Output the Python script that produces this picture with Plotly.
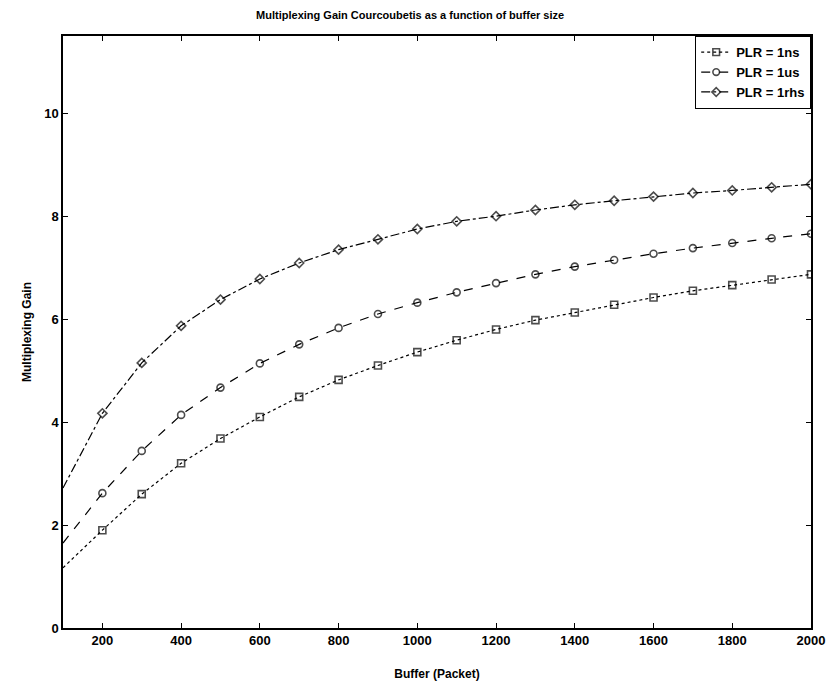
import plotly.graph_objects as go

buffer_sizes = [100, 200, 300, 400, 500, 600, 700, 800, 900, 1000, 1100, 1200, 1300,
                1400, 1500, 1600, 1700, 1800, 1900, 2000]
gain_1ns = [1.17, 1.90, 2.60, 3.20, 3.68, 4.10, 4.49, 4.82, 5.10, 5.36, 5.59, 5.80, 5.98,
            6.13, 6.28, 6.42, 6.55, 6.66, 6.77, 6.87]
gain_1us = [1.65, 2.62, 3.44, 4.14, 4.67, 5.14, 5.51, 5.83, 6.10, 6.32, 6.52, 6.70, 6.87,
            7.02, 7.15, 7.27, 7.38, 7.48, 7.57, 7.66]
gain_1ms = [2.72, 4.17, 5.15, 5.87, 6.38, 6.78, 7.09, 7.35, 7.55, 7.75, 7.90, 8.00, 8.12,
            8.22, 8.30, 8.38, 8.45, 8.50, 8.56, 8.62]
series_names = ["PLR = 1ns", "PLR = 1us", "PLR = 1rhs"]

x_ticks = [200, 400, 600, 800, 1000, 1200, 1400, 1600, 1800, 2000]
y_ticks = [0, 2, 4, 6, 8, 10]

marker_sizes = [0] + [7] * (len(buffer_sizes) - 1)

styles = [
    ("square-open", "dot"),
    ("circle-open", "dash"),
    ("diamond-open", "dashdot"),
]

FAMILY = "Liberation Sans, Arial, sans-serif"

fig = go.Figure()
for name, ys, (sym, dash) in zip(series_names, [gain_1ns, gain_1us, gain_1ms], styles):
    fig.add_trace(go.Scatter(
        x=buffer_sizes, y=ys, name=name, mode="lines+markers",
        line=dict(color="black", width=1.2, dash=dash),
        marker=dict(symbol=sym, size=marker_sizes, color="black",
                    line=dict(color="black", width=1.6)),
    ))

fig.update_layout(
    width=837, height=694,
    margin=dict(l=63, r=21, t=36, b=66),
    paper_bgcolor="white", plot_bgcolor="white",
    title=dict(text="<b>Multiplexing Gain Courcoubetis as a function of buffer size</b>",
               x=0.49, xanchor="center", y=0.978, yanchor="middle",
               font=dict(family=FAMILY, size=11, color="black")),
    font=dict(family=FAMILY, size=13, color="black"),
    showlegend=True,
    legend=dict(x=1, xanchor="right", y=1, yanchor="top",
                bgcolor="white", bordercolor="black", borderwidth=1.2,
                font=dict(family=FAMILY, size=13, color="black", weight="bold"),
                tracegroupgap=0, itemwidth=30),
)

fig.update_xaxes(
    range=[100, 2000], tickvals=x_ticks, ticktext=[str(v) for v in x_ticks],
    ticks="inside", ticklen=5, tickcolor="black", showline=True, linecolor="black",
    linewidth=1.5, mirror="ticks", showgrid=False, zeroline=False,
    title=dict(text="<b>Buffer (Packet)</b>", font=dict(size=12), standoff=22),
    tickfont=dict(size=13, weight="bold"),
)
fig.update_yaxes(
    range=[0, 11.5], tickvals=y_ticks, ticktext=[str(v) for v in y_ticks],
    ticks="inside", ticklen=5, tickcolor="black", showline=True, linecolor="black",
    linewidth=1.5, mirror="ticks", showgrid=False, zeroline=False,
    title=dict(text="<b>Multiplexing Gain</b>", font=dict(size=12), standoff=10),
    tickfont=dict(size=13, weight="bold"),
)

fig.write_html("out.html")
